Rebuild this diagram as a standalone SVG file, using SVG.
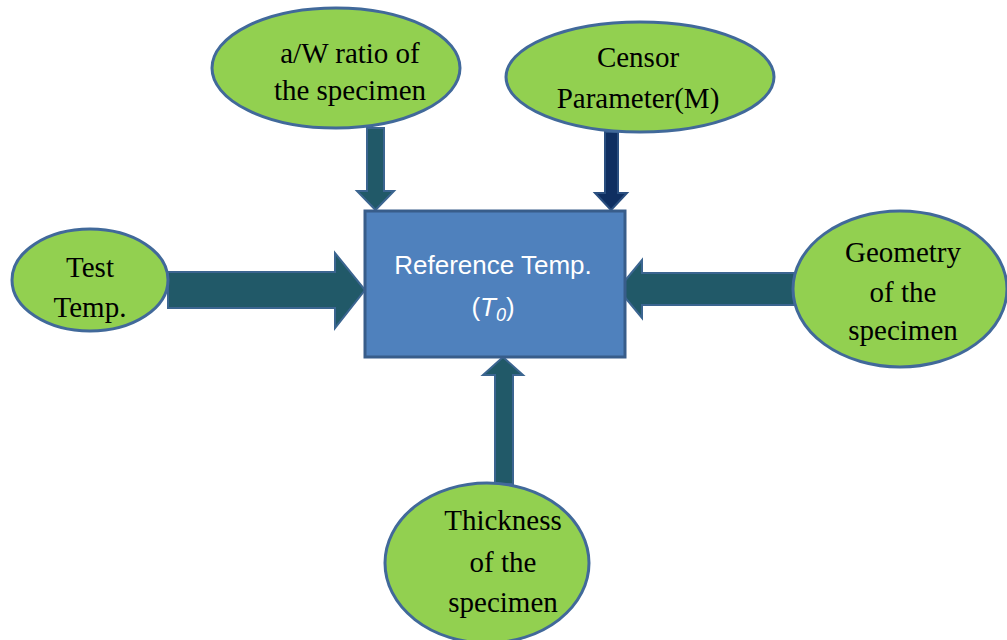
<svg xmlns="http://www.w3.org/2000/svg" width="1007" height="640" viewBox="0 0 1007 640">
<style>
.node ellipse{fill:#92d050;stroke:#41699a;stroke-width:3}
.lbl{font-family:"Liberation Serif","Times New Roman",serif;font-size:29px;fill:#000;text-anchor:middle}
.arr{fill:#215968;stroke:#3b6590;stroke-width:2}
.arr2{fill:#0f2f61;stroke:#2a4f80;stroke-width:2}
.box{fill:#4f81bd;stroke:#385d8a;stroke-width:3}
.wt{font-family:"Liberation Sans",Arial,sans-serif;font-size:26px;fill:#fff;text-anchor:middle}
</style>
<rect width="1007" height="640" fill="#fff"/>
<g id="connectors">
<polygon class="arr" points="168,272 335,272 335,253 365,290 335,328 335,308 168,308"/>
<polygon class="arr" points="795,273 642,273 642,260 618,289 642,318 642,305 795,305"/>
<polygon class="arr" points="367,128 384,128 384,191 394,191 375.5,210 357,191 367,191"/>
<polygon class="arr2" points="605,132 618,132 618,193 627,193 611,210 595,193 605,193"/>
<polygon class="arr" points="495,484 513,484 513,375 523,375 503,357 483,375 495,375"/>
</g>
<g id="ref-temp">
<rect class="box" x="365" y="211" width="260" height="146"/>
<text class="wt" x="493" y="274">Reference Temp.</text>
<text class="wt" x="493" y="316">(<tspan font-style="italic">T</tspan><tspan font-style="italic" font-size="18" dy="5">0</tspan><tspan dy="-5">)</tspan></text>
</g>
<g id="aw-ratio" class="node">
<ellipse cx="336" cy="68" rx="124" ry="60"/>
<text class="lbl" x="350" y="63">a/W ratio of</text>
<text class="lbl" x="350" y="100">the specimen</text>
</g>
<g id="censor" class="node">
<ellipse cx="640" cy="77" rx="134" ry="55"/>
<text class="lbl" x="638" y="67">Censor</text>
<text class="lbl" x="638" y="108">Parameter(M)</text>
</g>
<g id="test-temp" class="node">
<ellipse cx="90" cy="280" rx="78" ry="51"/>
<text class="lbl" x="90" y="277">Test</text>
<text class="lbl" x="90" y="317">Temp.</text>
</g>
<g id="geometry" class="node">
<ellipse cx="900" cy="289" rx="107" ry="78"/>
<text class="lbl" x="903" y="262">Geometry</text>
<text class="lbl" x="903" y="302">of the</text>
<text class="lbl" x="903" y="340">specimen</text>
</g>
<g id="thickness" class="node">
<ellipse cx="487" cy="563" rx="102" ry="80"/>
<text class="lbl" x="503" y="530">Thickness</text>
<text class="lbl" x="503" y="572">of the</text>
<text class="lbl" x="503" y="612">specimen</text>
</g>
</svg>
